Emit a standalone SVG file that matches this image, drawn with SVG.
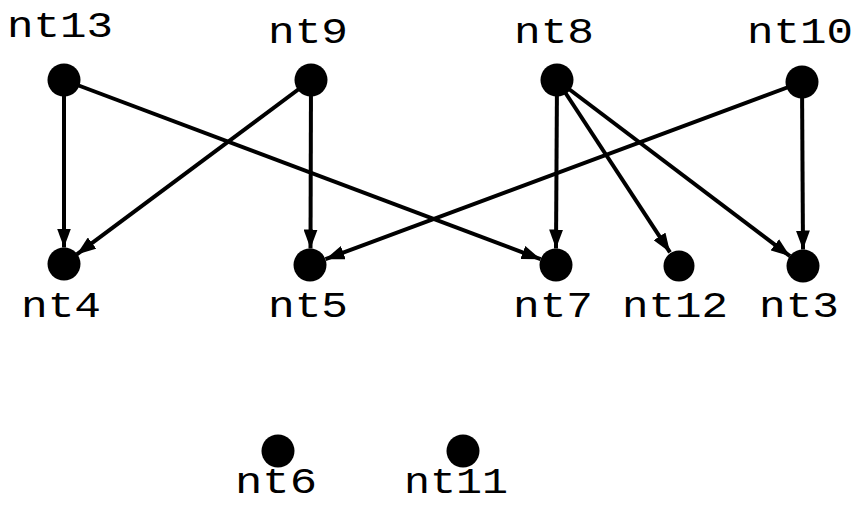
<svg xmlns="http://www.w3.org/2000/svg" width="859" height="510" viewBox="0 0 859 510">
<style>
.n{fill:#000}
.e{stroke:#000;stroke-width:4;fill:none;marker-end:url(#ah)}
.t{font-family:"Liberation Mono","Courier New",monospace;font-size:37px;fill:#000;text-anchor:middle}
</style>
<defs>
<marker id="ah" markerUnits="userSpaceOnUse" viewBox="0 0 19 14" refX="19" refY="7" markerWidth="19" markerHeight="14" orient="auto">
<path d="M0,0 L19,7 L0,14 Z" fill="#000"/>
</marker>
</defs>
<rect width="859" height="510" fill="#fff"/>
<g id="edges">
<line class="e" x1="64" y1="80" x2="64" y2="247.5"/>
<line class="e" x1="64" y1="80" x2="540.6" y2="259.2"/>
<line class="e" x1="311" y1="80" x2="76.8" y2="254.4"/>
<line class="e" x1="311" y1="80" x2="310.5" y2="248.5"/>
<line class="e" x1="557" y1="80" x2="556" y2="248.5"/>
<line class="e" x1="557" y1="80" x2="670" y2="252.3"/>
<line class="e" x1="557" y1="80" x2="790" y2="256.2"/>
<line class="e" x1="802" y1="82" x2="325.5" y2="259.2"/>
<line class="e" x1="802" y1="82" x2="803" y2="249.5"/>
</g>
<g id="nt13"><circle class="n" cx="64" cy="80" r="16.5"/><text class="t" x="60" y="37" textLength="106" lengthAdjust="spacingAndGlyphs">nt13</text></g>
<g id="nt9"><circle class="n" cx="311" cy="80" r="16.5"/><text class="t" x="308" y="43" textLength="80" lengthAdjust="spacingAndGlyphs">nt9</text></g>
<g id="nt8"><circle class="n" cx="557" cy="80" r="16.5"/><text class="t" x="554" y="43" textLength="80" lengthAdjust="spacingAndGlyphs">nt8</text></g>
<g id="nt10"><circle class="n" cx="802" cy="82" r="16.5"/><text class="t" x="800" y="43" textLength="106" lengthAdjust="spacingAndGlyphs">nt10</text></g>
<g id="nt4"><circle class="n" cx="64" cy="264" r="16.5"/><text class="t" x="61" y="317" textLength="80" lengthAdjust="spacingAndGlyphs">nt4</text></g>
<g id="nt5"><circle class="n" cx="310" cy="265" r="16.5"/><text class="t" x="308" y="317" textLength="80" lengthAdjust="spacingAndGlyphs">nt5</text></g>
<g id="nt7"><circle class="n" cx="556" cy="265" r="16.5"/><text class="t" x="553" y="317" textLength="80" lengthAdjust="spacingAndGlyphs">nt7</text></g>
<g id="nt12"><circle class="n" cx="679" cy="266" r="15.5"/><text class="t" x="675" y="317" textLength="106" lengthAdjust="spacingAndGlyphs">nt12</text></g>
<g id="nt3"><circle class="n" cx="803" cy="266" r="16.5"/><text class="t" x="799" y="317" textLength="80" lengthAdjust="spacingAndGlyphs">nt3</text></g>
<g id="nt6"><circle class="n" cx="278" cy="451" r="16.5"/><text class="t" x="276" y="493" textLength="82" lengthAdjust="spacingAndGlyphs">nt6</text></g>
<g id="nt11"><circle class="n" cx="463" cy="451" r="16.5"/><text class="t" x="456" y="493" textLength="104" lengthAdjust="spacingAndGlyphs">nt11</text></g>
</svg>
